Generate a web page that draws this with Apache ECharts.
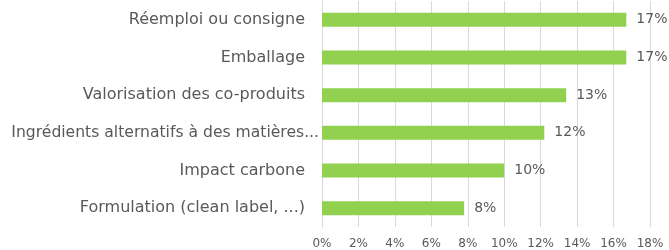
<!DOCTYPE html>
<html><head><meta charset="utf-8">
<script src="https://cdn.jsdelivr.net/npm/echarts@6/dist/echarts.min.js"></script>
<style>html,body{margin:0;padding:0;background:#fff}#c{width:669px;height:250px}</style>
</head><body><div id="c"></div>
<script>
const categories = ["Formulation (clean label, ...)", "Impact carbone", "Ingrédients alternatifs à des matières...", "Valorisation des co-produits", "Emballage", "Réemploi ou consigne"];
const values = [7.8, 10.0, 12.2, 13.4, 16.7, 16.7];
const tickLabels = ["0%","2%","4%","6%","8%","10%","12%","14%","16%","18%"];
const longLabel = "Ingrédients alternatifs à des matières...";
const FONT = 'DejaVu Sans';
const chart = echarts.init(document.getElementById('c'));
chart.setOption({
  animation:false,
  grid:{left:322,right:19,top:1,bottom:22,containLabel:false},
  xAxis:{type:'value',min:0,max:18,interval:2,
    axisLine:{show:false},axisTick:{show:false},
    splitLine:{lineStyle:{color:'#d9d9d9',width:1}},
    axisLabel:{color:'#595959',fontSize:12,fontFamily:FONT,margin:11,
      formatter:(v)=>tickLabels[Math.round(v/2)]}},
  yAxis:{type:'category',data:categories,
    axisLine:{show:true,lineStyle:{color:'#d9d9d9'}},axisTick:{show:false},
    axisLabel:{color:'#595959',fontSize:16,fontFamily:FONT,margin:3,
      formatter:(v)=> v===longLabel ? '{b|'+v+'}' : '{a|'+v+'}',
      rich:{a:{color:'#595959',fontSize:16,fontFamily:FONT,padding:[0,14,0,0]},
            b:{color:'#595959',fontSize:15.6,fontFamily:FONT,padding:[0,0,0,0]}}}},
  series:[{type:'bar',data:values,barWidth:14,
    itemStyle:{color:'#92d050'},
    label:{show:true,position:'right',distance:10,color:'#595959',fontSize:14,fontFamily:FONT,
      formatter:(p)=>Math.round(p.value)+'%'}}]
});
</script></body></html>
